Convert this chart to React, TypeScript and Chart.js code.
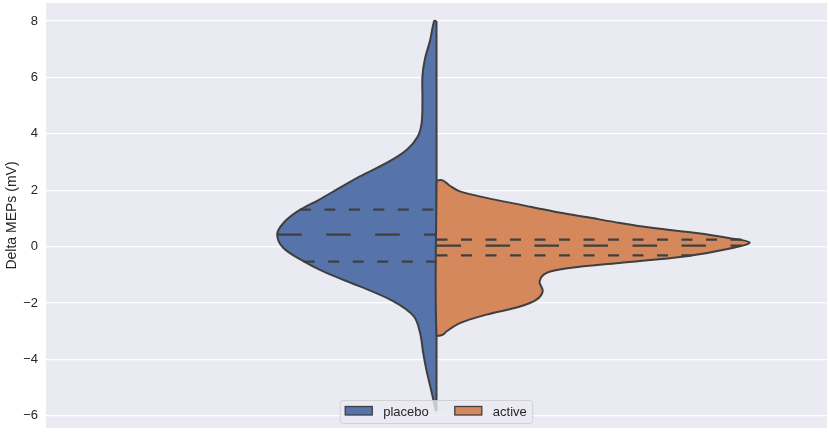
import React, { useEffect, useRef } from 'react';
import { Chart, registerables } from 'chart.js';
import type { Plugin } from 'chart.js';

Chart.register(...registerables);

// groups shown in the legend
const groups = ['placebo', 'active'];
const groupColors = ['#5674A9', '#D4885C'];
const edgeColor = '#3f3f3f';
const textColor = '#262626';
const fontFamily = '"Liberation Sans", Arial, Helvetica, sans-serif';

// y axis ticks
const yTicks = [-6, -4, -2, 0, 2, 4, 6, 8];

// placebo half violin (left): support values and half widths (x units)
const placeboY = [8.0, 8.0, 7.34, 6.63, 6.04, 5.21, 4.39, 3.91, 3.44, 2.97, 2.49, 2.02, 1.67, 1.25, 0.84, 0.43, -0.05, -0.52, -0.93, -1.41, -1.94, -2.47, -3.06, -3.77, -4.36, -4.95, -5.43, -5.8, -5.8];
const placeboW = [0, 0.003, 0.008, 0.015, 0.018, 0.018, 0.019, 0.024, 0.038, 0.064, 0.098, 0.128, 0.150, 0.178, 0.196, 0.204, 0.196, 0.170, 0.141, 0.098, 0.055, 0.029, 0.021, 0.017, 0.013, 0.008, 0.004, 0.001, 0];

// active half violin (right)
const activeY = [2.35, 2.35, 2.16, 1.96, 1.73, 1.49, 1.25, 1.05, 0.84, 0.66, 0.49, 0.31, 0.15, -0.05, -0.34, -0.58, -0.76, -0.93, -1.23, -1.58, -1.88, -2.12, -2.41, -2.71, -3.0, -3.12, -3.12];
const activeW = [0, 0.008, 0.017, 0.030, 0.064, 0.107, 0.150, 0.192, 0.235, 0.278, 0.330, 0.374, 0.401, 0.379, 0.320, 0.234, 0.170, 0.141, 0.132, 0.136, 0.128, 0.107, 0.064, 0.030, 0.013, 0.008, 0];

// quartiles (q1, median, q3) and the violin width at each of them
const placeboQuart = [-0.53, 0.43, 1.31];
const placeboQuartW = [0.170, 0.204, 0.175];
const activeQuart = [-0.31, 0.04, 0.25];
const activeQuartW = [0.327, 0.391, 0.392];

const bgPlugin: Plugin = {
    id: 'axesBg',
    beforeDraw(chart) {
        const { ctx, chartArea } = chart;
        ctx.save();
        ctx.fillStyle = '#EAEAF2';
        ctx.fillRect(chartArea.left, chartArea.top, chartArea.right - chartArea.left, chartArea.bottom - chartArea.top);
        ctx.restore();
    }
};

// matplotlib-like legend, lower center inside the axes
const legendPlugin: Plugin = {
    id: 'innerLegend',
    afterDatasetsDraw(chart) {
        const { ctx, chartArea } = chart;
        ctx.save();
        ctx.font = `13px ${fontFamily}`;
        const padL = 5, padR = 6, patchW = 27, patchH = 8.5, gap = 11, colGap = 26, boxH = 23;
        const widths = groups.map(g => ctx.measureText(g).width);
        let total = padL + padR + colGap * (groups.length - 1);
        widths.forEach(w => { total += patchW + gap + w; });
        const x0 = (chartArea.left + chartArea.right) / 2 - total / 2;
        const y0 = chartArea.bottom - 4.5 - boxH;

        ctx.beginPath();
        ctx.roundRect(x0, y0, total, boxH, 3);
        ctx.fillStyle = 'rgba(234,234,242,0.8)';
        ctx.fill();
        ctx.strokeStyle = 'rgba(204,204,204,0.8)';
        ctx.lineWidth = 1;
        ctx.stroke();

        let x = x0 + padL;
        groups.forEach((g, i) => {
            ctx.fillStyle = groupColors[i];
            ctx.fillRect(x, y0 + 6, patchW, patchH);
            ctx.strokeStyle = edgeColor;
            ctx.lineWidth = 1.3;
            ctx.strokeRect(x, y0 + 6, patchW, patchH);
            ctx.fillStyle = textColor;
            ctx.textAlign = 'left';
            ctx.textBaseline = 'middle';
            ctx.fillText(g, x + patchW + gap, y0 + boxH / 2 + 0.5);
            x += patchW + gap + widths[i] + colGap;
        });
        ctx.restore();
    }
};

const App: React.FC = () => {
    const canvasRef = useRef<HTMLCanvasElement | null>(null);

    useEffect(() => {
        const ctx = canvasRef.current?.getContext('2d');
        if (!ctx) return;

        const placeboPts = placeboY.map((y, i) => ({ x: -placeboW[i], y }));
        placeboPts.push({ x: 0, y: placeboY[0] });
        const activePts = activeY.map((y, i) => ({ x: activeW[i], y }));
        activePts.push({ x: 0, y: activeY[0] });

        const quartSets: any[] = [];
        placeboQuart.forEach((q, i) => {
            quartSets.push({
                data: [{ x: -placeboQuartW[i], y: q }, { x: 0, y: q }],
                borderDash: i === 1 ? [24.5, 24.5] : [11, 13.5]
            });
        });
        activeQuart.forEach((q, i) => {
            quartSets.push({
                data: [{ x: 0, y: q }, { x: activeQuartW[i], y: q }],
                borderDash: i === 1 ? [24.5, 24.5] : [11, 13.5]
            });
        });

        const chart = new Chart(ctx, {
            type: 'scatter',
            data: {
                datasets: [
                    ...quartSets.map(s => ({
                        ...s,
                        showLine: true,
                        borderColor: edgeColor,
                        borderWidth: 2.2,
                        borderCapStyle: 'butt',
                        pointRadius: 0,
                        tension: 0,
                        fill: false,
                        order: 0
                    })),
                    {
                        label: groups[1],
                        data: activePts,
                        showLine: true,
                        borderColor: edgeColor,
                        backgroundColor: groupColors[1],
                        borderWidth: 2,
                        borderJoinStyle: 'round',
                        pointRadius: 0,
                        tension: 0.35,
                        fill: 'shape',
                        order: 1
                    },
                    {
                        label: groups[0],
                        data: placeboPts,
                        showLine: true,
                        borderColor: edgeColor,
                        backgroundColor: groupColors[0],
                        borderWidth: 2,
                        borderJoinStyle: 'round',
                        pointRadius: 0,
                        tension: 0.35,
                        fill: 'shape',
                        order: 2
                    }
                ] as any
            },
            options: {
                animation: false,
                responsive: true,
                maintainAspectRatio: false,
                layout: { padding: { left: 0, right: 2, top: 3, bottom: 4 } },
                plugins: {
                    legend: { display: false },
                    tooltip: { enabled: false }
                },
                scales: {
                    x: { type: 'linear', min: -0.5, max: 0.5, display: false },
                    y: {
                        type: 'linear',
                        min: -6.43,
                        max: 8.64,
                        afterBuildTicks: (s: any) => { s.ticks = yTicks.map(v => ({ value: v })); },
                        afterFit: (s: any) => {
                            s.width = 46;
                            s.paddingTop = 0;
                            s.paddingBottom = 0;
                        },
                        grid: { color: '#ffffff', lineWidth: 1.3, drawTicks: false },
                        border: { display: false },
                        ticks: {
                            padding: 8,
                            color: textColor,
                            font: { family: fontFamily, size: 13 },
                            callback: (v: any) => String(v).replace('-', '\u2212')
                        },
                        title: {
                            display: true,
                            text: 'Delta MEPs (mV)',
                            color: textColor,
                            font: { family: fontFamily, size: 14, lineHeight: 1.2 },
                            padding: { top: 4, bottom: 0 }
                        }
                    }
                }
            },
            plugins: [bgPlugin, legendPlugin]
        });

        return () => {
            chart.destroy();
        };
    }, []);

    return (
        <div style={{ position: 'absolute', left: 0, top: 0, width: 829, height: 432, background: '#ffffff' }}>
            <canvas ref={canvasRef} />
        </div>
    );
};

export default App;
